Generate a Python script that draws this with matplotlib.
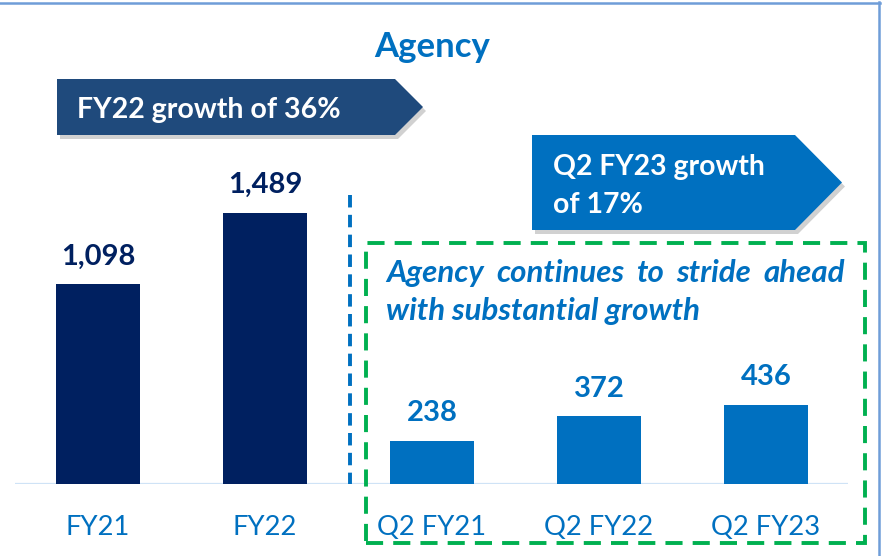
import matplotlib
matplotlib.use("Agg")
import matplotlib.pyplot as plt
from matplotlib.patches import Polygon, Rectangle
from matplotlib.lines import Line2D

plt.rcParams['font.family'] = ['Lato', 'DejaVu Sans']

# ---- data ----
categories = ["FY21", "FY22", "Q2 FY21", "Q2 FY22", "Q2 FY23"]
values = [1098, 1489, 238, 372, 436]
value_labels = ["1,098", "1,489", "238", "372", "436"]
title = "Agency"
annual_note = "FY22 growth of 36%"
quarter_note = ["Q2 FY23 growth", "of 17%"]
callout_line1 = ["Agency", "continues", "to", "stride", "ahead"]
callout_line2 = "with substantial growth"

NAVY = "#002060"
BLUE = "#0070C0"
ARROW1 = "#1F4A7C"
GREEN = "#00B050"

W, H = 885, 556
fig = plt.figure(figsize=(W / 100, H / 100), dpi=100)

def P(x, y):
    return (x / W, 1 - y / H)

# axes: baseline at y=484px, x from 15 to 848 px
ax = fig.add_axes([15 / W, 1 - 484 / H, (848 - 15) / W, 484 / H])
ax.set_xlim(-0.497, 4.491)
ax.set_ylim(0, 2659)
ax.axis("off")

colors = [NAVY, NAVY, BLUE, BLUE, BLUE]
xs = list(range(len(categories)))
ax.bar(xs, values, width=0.503, color=colors, zorder=3)
ax.axhline(0, color="#CFE3F6", lw=1.6, zorder=2)
for x, v, lab, c in zip(xs, values, value_labels, colors):
    ax.annotate(lab, (x, v), xytext=(0, 14.2), textcoords="offset points",
                ha="center", va="baseline", fontsize=21, fontweight="bold", color=c)
    ax.annotate(categories[x], (x, 0), xytext=(0, -36.7), textcoords="offset points",
                ha="center", va="baseline", fontsize=19.7, color=BLUE, annotation_clip=False)

# frame lines
fig.add_artist(Line2D([0, 880 / W], [1 - 2.5 / H] * 2, color="#6F9DD8", lw=1.8))
fig.add_artist(Line2D([878.5 / W] * 2, [1 - 2 / H, 0], color="#6F9DD8", lw=1.8))

# title
fig.text(*P(432, 57), title, ha="center", va="baseline", fontsize=25,
         fontweight="bold", color=BLUE)

def arrow(x0, y0, x1, tip, y1, color):
    ym = (y0 + y1) / 2
    pts = [(x0, y0), (x1, y0), (tip, ym), (x1, y1), (x0, y1)]
    sh = [P(x + 3, y + 4) for (x, y) in pts]
    fig.add_artist(Polygon(sh, closed=True, transform=fig.transFigure,
                           facecolor="#000000", alpha=0.18, edgecolor="none"))
    fig.add_artist(Polygon([P(x, y) for (x, y) in pts], closed=True,
                           transform=fig.transFigure, facecolor=color, edgecolor="none"))

arrow(57, 79, 395, 423, 135, ARROW1)
fig.text(*P(77, 118), annual_note, ha="left", va="baseline", fontsize=20.5,
         fontweight="bold", color="white")

arrow(532, 135, 795, 842, 230, BLUE)
fig.text(*P(553, 175), quarter_note[0], ha="left", va="baseline", fontsize=20.4,
         fontweight="bold", color="white")
fig.text(*P(553, 213), quarter_note[1], ha="left", va="baseline", fontsize=20.4,
         fontweight="bold", color="white")

# blue dashed divider
fig.add_artist(Line2D([349.5 / W] * 2, [1 - 195 / H, 1 - 484 / H], color=BLUE,
                      lw=2.8, linestyle=(0, (3.2, 1.9))))

# green dashed box
bx0, by0, bx1, by1 = 366, 243, 865, 543
fig.add_artist(Rectangle(P(bx0, by1), (bx1 - bx0) / W, (by1 - by0) / H,
                         transform=fig.transFigure, fill=False, edgecolor=GREEN,
                         lw=2.8, linestyle=(0, (4.4, 2.6))))

# callout text (justified first line)
FS_IT = 22.5
fig.canvas.draw()
r = fig.canvas.get_renderer()
tx = []
for w in callout_line1:
    t = fig.text(0, 0, w, fontsize=FS_IT, fontweight="bold", style="italic", color=BLUE,
                 ha="left", va="baseline")
    tx.append(t)
widths = [t.get_window_extent(r).width for t in tx]
left, right = 386, 845
gap = (right - left - sum(widths)) / (len(widths) - 1)
x = left
for t, w in zip(tx, widths):
    t.set_position(P(x, 282))
    x += w + gap
fig.text(*P(left, 320), callout_line2, fontsize=FS_IT, fontweight="bold", style="italic",
         color=BLUE, ha="left", va="baseline")

fig.savefig("out.png", dpi=100)
